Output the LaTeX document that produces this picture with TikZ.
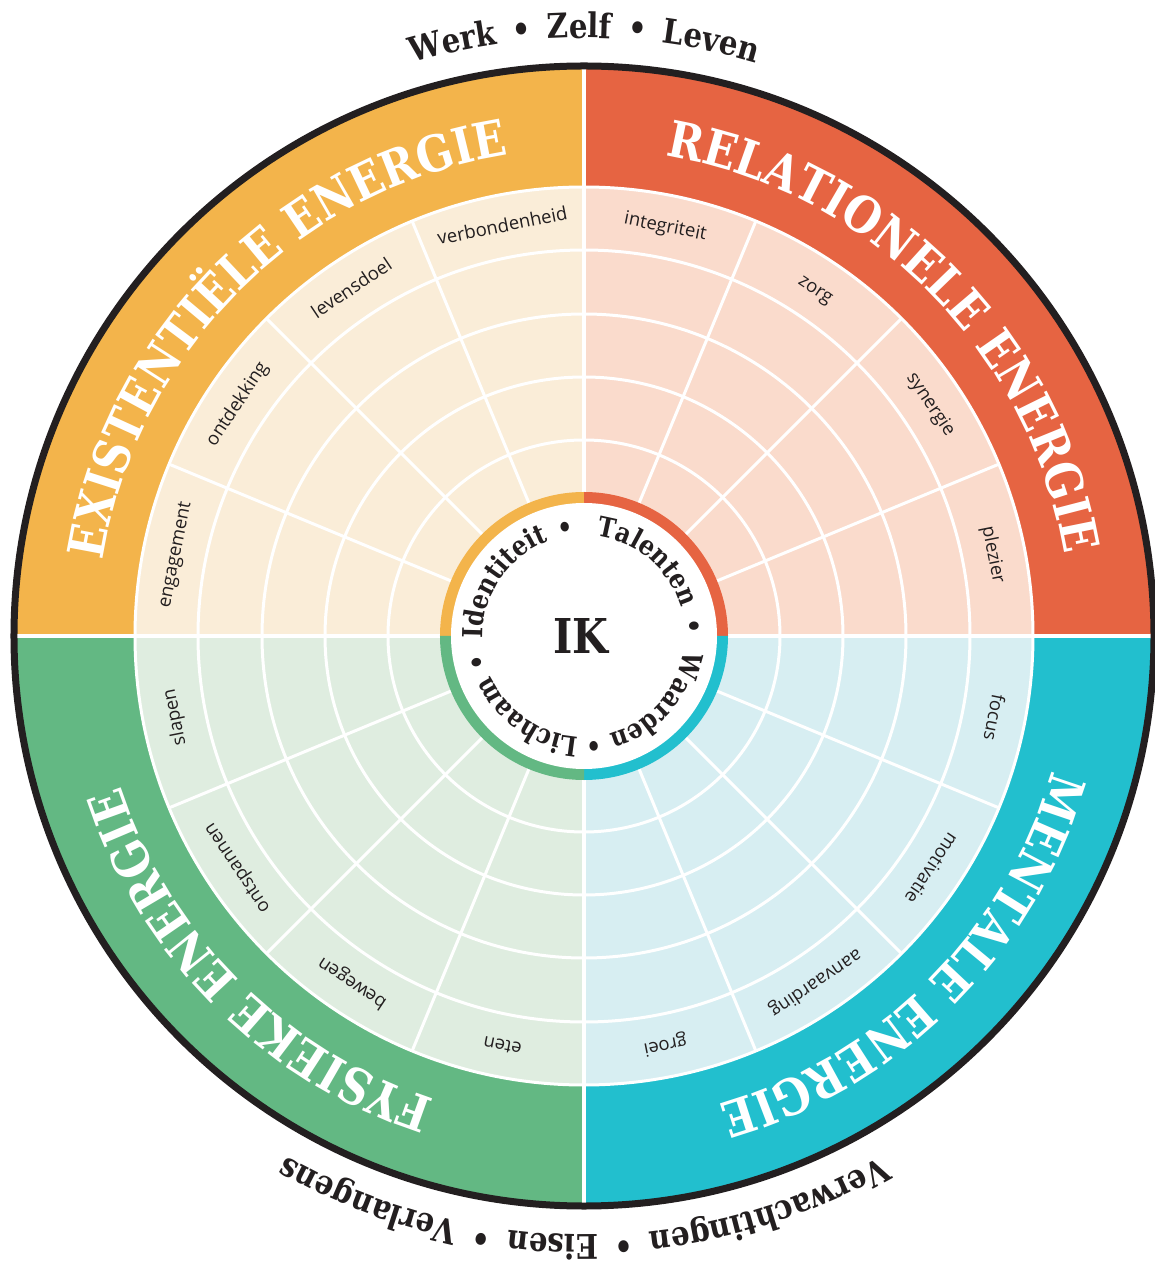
\documentclass[tikz,border=0pt]{standalone}
\usepackage{fontspec}
\usetikzlibrary{decorations.text}
\newfontfamily\slab{DejaVu Serif}[FakeStretch=0.86]
\newfontfamily\labelfont{Open Sans}
\definecolor{ink}{HTML}{231F20}
\definecolor{exiC}{HTML}{F3B44B}
\definecolor{exiL}{HTML}{FAEDD8}
\definecolor{relC}{HTML}{E66442}
\definecolor{relL}{HTML}{FADBCC}
\definecolor{menC}{HTML}{22BFCE}
\definecolor{menL}{HTML}{D7EEF2}
\definecolor{fysC}{HTML}{63B883}
\definecolor{fysL}{HTML}{DFEDE0}
\newcommand\titlefont{\slab\bfseries\fontsize{50}{50}\selectfont}
\newcommand\outerfont{\slab\bfseries\fontsize{34}{34}\selectfont}
\newcommand\innerfont{\slab\bfseries\fontsize{27.5}{27.5}\selectfont}
\begin{document}
\begin{tikzpicture}[x=1pt,y=1pt,
  gridline/.style={white, line width=3},
  axisline/.style={white, line width=4.5},
  sectorlabel/.style={font=\labelfont\fontsize{18.5}{18.5}\selectfont, text=ink, anchor=mid, inner sep=0pt},
  innerdot/.style={font=\innerfont, text=ink, inner sep=0pt},
  titletext/.style={decorate, decoration={text along path, text={|\titlefont|#1}, text align=center, text color=white}},
  inktext/.style={decorate, decoration={text along path, text={|\innerfont|#1}, text align=center, text color=ink}},
  rimtext/.style={decorate, decoration={text along path, text={|\outerfont|#1}, text align=center, text color=ink}}
]
\useasboundingbox (-584,636) rectangle (571,-629);
% outer coloured quadrants
\fill[exiC] (0,0) -- (180:570) arc[start angle=180,end angle=90,radius=570] -- cycle;
\fill[relC] (0,0) -- (90:570) arc[start angle=90,end angle=0,radius=570] -- cycle;
\fill[menC] (0,0) -- (0:570) arc[start angle=0,end angle=-90,radius=570] -- cycle;
\fill[fysC] (0,0) -- (-90:570) arc[start angle=-90,end angle=-180,radius=570] -- cycle;
% light sector fields
\fill[exiL] (0,0) -- (180:449) arc[start angle=180,end angle=90,radius=449] -- cycle;
\fill[relL] (0,0) -- (90:449) arc[start angle=90,end angle=0,radius=449] -- cycle;
\fill[menL] (0,0) -- (0:449) arc[start angle=0,end angle=-90,radius=449] -- cycle;
\fill[fysL] (0,0) -- (-90:449) arc[start angle=-90,end angle=-180,radius=449] -- cycle;
% rings
\foreach \r in {196,259,322,386,449} \draw[gridline] (0,0) circle[radius=\r];
% radial lines
\foreach \a in {22.5,45,67.5,112.5,135,157.5,202.5,225,247.5,292.5,315,337.5}
  \draw[gridline] (\a:140) -- (\a:449);
\foreach \a in {0,90,180,270}
  \draw[axisline] (\a:140) -- (\a:568);
% inner coloured ring
\fill[exiC] (0,0) -- (180:144) arc[start angle=180,end angle=90,radius=144] -- cycle;
\fill[relC] (0,0) -- (90:144) arc[start angle=90,end angle=0,radius=144] -- cycle;
\fill[menC] (0,0) -- (0:144) arc[start angle=0,end angle=-90,radius=144] -- cycle;
\fill[fysC] (0,0) -- (-90:144) arc[start angle=-90,end angle=-180,radius=144] -- cycle;
\fill[white] (0,0) circle[radius=133];
% outer black rim
\draw[ink, line width=7] (0,0) circle[radius=570];
% titles
\path[titletext={EXISTENTIËLE ENERGIE}] (180:487) arc[start angle=180,end angle=90,radius=487];
\path[titletext={RELATIONELE ENERGIE}] (90:487) arc[start angle=90,end angle=0,radius=487];
\path[titletext={MENTALE ENERGIE}] (0:487) arc[start angle=0,end angle=-90,radius=487];
\path[titletext={FYSIEKE ENERGIE}] (-90:487) arc[start angle=-90,end angle=-180,radius=487];
% rim texts
\path[rimtext={Werk{\kern16pt•\kern16pt}Zelf{\kern16pt•\kern16pt}Leven}] (180:598) arc[start angle=180,end angle=0,radius=598];
\path[rimtext={Verwachtingen{\kern16pt•\kern16pt}Eisen{\kern16pt•\kern16pt}Verlangens}] (0:599) arc[start angle=0,end angle=-180,radius=599];
% sector labels
\node[sectorlabel, rotate=78.75] (l1) at (168.75:414) {engagement};
\node[sectorlabel, rotate=56.25] (l2) at (146.25:414) {ontdekking};
\node[sectorlabel, rotate=33.75] (l3) at (123.75:414) {levensdoel};
\node[sectorlabel, rotate=11.25] (l4) at (101.25:414) {verbondenheid};
\node[sectorlabel, rotate=-11.25] (l5) at (78.75:414) {integriteit};
\node[sectorlabel, rotate=-33.75] (l6) at (56.25:414) {zorg};
\node[sectorlabel, rotate=-56.25] (l7) at (33.75:414) {synergie};
\node[sectorlabel, rotate=-78.75] (l8) at (11.25:414) {plezier};
\node[sectorlabel, rotate=-101.25] (l9) at (-11.25:414) {focus};
\node[sectorlabel, rotate=-123.75] (l10) at (-33.75:414) {motivatie};
\node[sectorlabel, rotate=-146.25] (l11) at (-56.25:414) {aanvaarding};
\node[sectorlabel, rotate=-168.75] (l12) at (-78.75:414) {groei};
\node[sectorlabel, rotate=168.75] (l13) at (-101.25:414) {eten};
\node[sectorlabel, rotate=146.25] (l14) at (-123.75:414) {bewegen};
\node[sectorlabel, rotate=123.75] (l15) at (-146.25:414) {ontspannen};
\node[sectorlabel, rotate=101.25] (l16) at (-168.75:414) {slapen};
% inner ring words
\path[inktext={Identiteit}] (206:101) arc[start angle=206,end angle=86,radius=101];
\path[inktext={Talenten}] (109.5:101) arc[start angle=109.5,end angle=-10.5,radius=101];
\path[inktext={Waarden}] (18:101) arc[start angle=18,end angle=-102,radius=101];
\path[inktext={Lichaam}] (-65:101) arc[start angle=-65,end angle=-185,radius=101];
\node[innerdot, rotate=10] (d1) at (100:108) {•};
\node[innerdot, rotate=-85] (d2) at (5:108) {•};
\node[innerdot, rotate=-175] (d3) at (-85:108) {•};
\node[innerdot, rotate=-256] (d4) at (-166:108) {•};
\node[font=\slab\bfseries\fontsize{48}{48}\selectfont, text=ink] (ik) at (-3,0) {IK};
\end{tikzpicture}
\end{document}
